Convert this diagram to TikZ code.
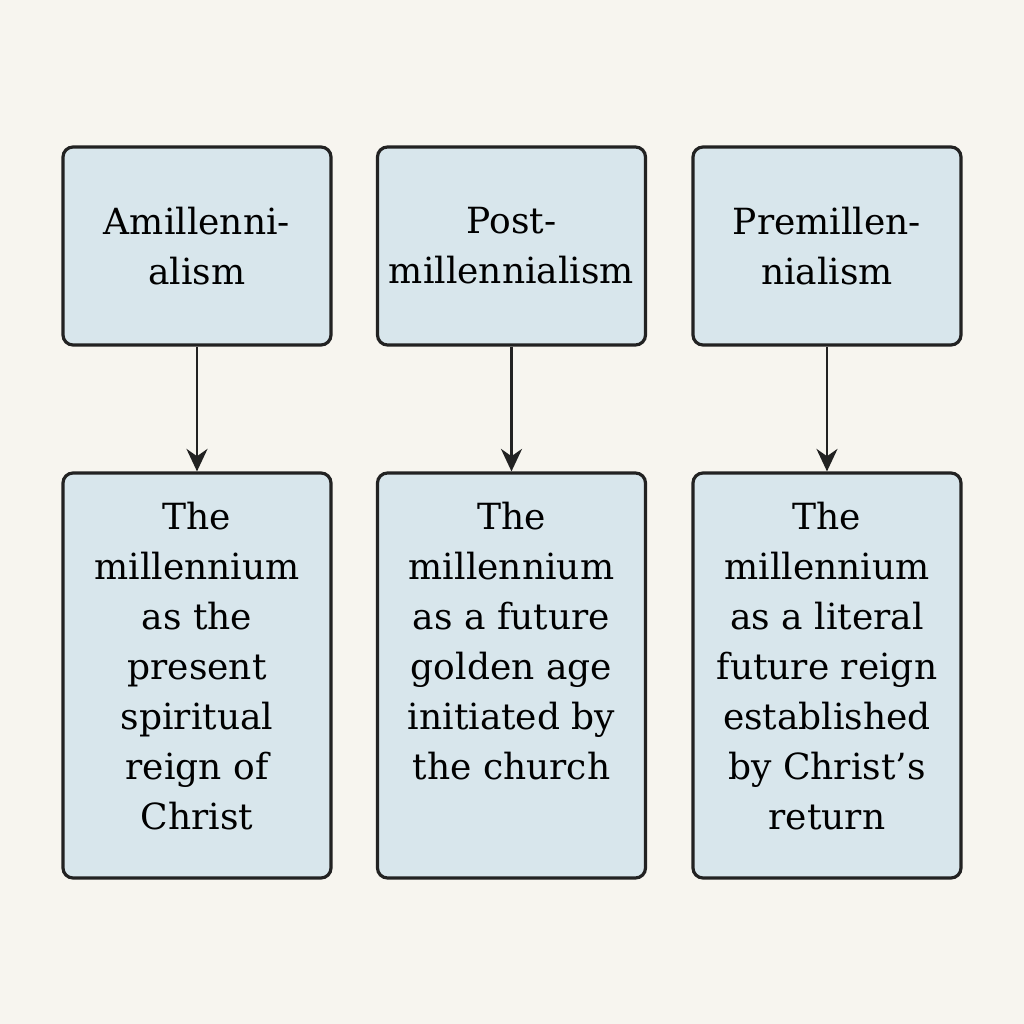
\documentclass[tikz,border=0pt]{standalone}
\usepackage{fontspec}
\setmainfont{DejaVu Serif}
\usetikzlibrary{arrows.meta, positioning}
\definecolor{paper}{RGB}{247,245,239}
\definecolor{boxblue}{RGB}{216,230,236}
\definecolor{inkgrey}{RGB}{34,34,34}

\begin{document}
\begin{tikzpicture}[
    view/.style={rectangle, rounded corners=0.2cm, minimum width=5.36cm, minimum height=3.96cm, draw=inkgrey, fill=boxblue, line width=1.8pt, align=center, font=\fontsize{20.5}{28.5}\selectfont},
    desc/.style={rectangle, rounded corners=0.2cm, minimum width=5.36cm, minimum height=8.1cm, draw=inkgrey, fill=boxblue, line width=1.8pt},
    txt/.style={align=center, font=\fontsize{20.5}{28.5}\selectfont, inner sep=0pt},
    arrow/.style={-{Stealth[length=0.45cm, width=0.42cm]}, line width=1.6pt, draw=inkgrey}
]
\fill[paper] (0,0) rectangle (20.48,20.48);

% Views
\node[view] (amil) at (3.94,15.56) {Amillenni-\\alism};
\node[view] (postmil) at (10.23,15.56) {Post-\\millennialism};
\node[view] (premil) at (16.54,15.56) {Premillen-\\nialism};

% Descriptions
\node[desc] (amildesc) at (3.94,6.97) {};
\node[desc] (postdesc) at (10.23,6.97) {};
\node[desc] (predesc) at (16.54,6.97) {};

\node[txt, below=0.6cm of amildesc.north] (amiltext) {The\\millennium\\as the\\present\\spiritual\\reign of\\Christ};
\node[txt, below=0.6cm of postdesc.north] (posttext) {The\\millennium\\as a future\\golden age\\initiated by\\the church};
\node[txt, below=0.6cm of predesc.north] (pretext) {The\\millennium\\as a literal\\future reign\\established\\by Christ’s\\return};

% Arrows
\draw[arrow] (amil) -- (amildesc);
\draw[arrow] (postmil) -- (postdesc);
\draw[arrow] (premil) -- (predesc);

\end{tikzpicture}
\end{document}
